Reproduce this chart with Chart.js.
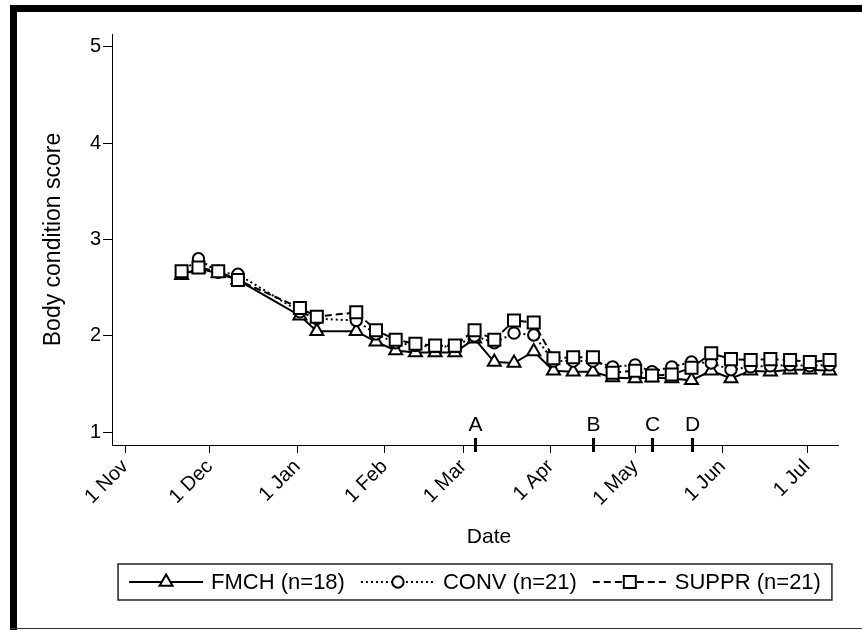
<!DOCTYPE html>
<html><head><meta charset="utf-8">
<style>html,body{margin:0;padding:0;background:#fff;}canvas{display:block;}</style>
<script src="https://cdn.jsdelivr.net/npm/chart.js@4.4.0/dist/chart.umd.min.js"></script>
</head><body>
<canvas id="c" width="862" height="630"></canvas>
<script>
// ---- data (days counted from 1 Nov) ----
const sampleDays = [20,26,33,40,62,68,82,89,96,103,110,117,124,131,138,145,152,159,166,173,181,187,194,201,208,215,222,229,236,243,250];
const fmch  = [2.63,2.70,2.65,2.58,2.21,2.05,2.05,1.94,1.85,1.83,1.83,1.83,1.97,1.73,1.72,1.84,1.64,1.63,1.63,1.57,1.56,1.57,1.56,1.54,1.64,1.56,1.64,1.63,1.65,1.65,1.64];
const conv  = [2.66,2.80,2.66,2.64,2.25,2.18,2.16,2.02,1.93,1.90,1.89,1.89,2.00,1.93,2.03,2.01,1.74,1.74,1.74,1.68,1.70,1.63,1.68,1.73,1.72,1.65,1.68,1.69,1.70,1.69,1.70];
const suppr = [2.67,2.71,2.67,2.58,2.29,2.20,2.245,2.06,1.96,1.92,1.90,1.90,2.06,1.96,2.16,2.14,1.77,1.78,1.78,1.62,1.64,1.59,1.60,1.67,1.82,1.76,1.75,1.76,1.75,1.73,1.75];
const seriesLabels = ['FMCH (n=18)','CONV (n=21)','SUPPR (n=21)'];
const monthTickDays = [0,30,61,92,120,151,181,212,242];
const monthTickLabels = ['1 Nov','1 Dec','1 Jan','1 Feb','1 Mar','1 Apr','1 May','1 Jun','1 Jul'];
const yTicks = [1,2,3,4,5];
const eventDays = [124,166,187,201];
const eventLabels = ['A','B','C','D'];
const xTitle = 'Date';
const yTitle = 'Body condition score';

const FONT = "'Liberation Sans', Arial, Helvetica, sans-serif";

function pts(arr){ return sampleDays.map((d,i)=>({x:d,y:arr[i]})); }

function drawMarker(ctx, style, r, x, y){
  ctx.beginPath();
  if(style==='circle'){ ctx.arc(x,y,r,0,Math.PI*2); }
  else if(style==='rect'){ const s=Math.SQRT1_2*r; ctx.rect(x-s,y-s,2*s,2*s); }
  else if(style==='triangle'){
    let a=0; ctx.moveTo(x+Math.sin(a)*r,y-Math.cos(a)*r);
    a+=2*Math.PI/3; ctx.lineTo(x+Math.sin(a)*r,y-Math.cos(a)*r);
    a+=2*Math.PI/3; ctx.lineTo(x+Math.sin(a)*r,y-Math.cos(a)*r);
    ctx.closePath();
  }
  ctx.fill(); ctx.stroke();
}

const framePlugin = {
  id:'frame',
  afterDraw(chart){
    const ctx=chart.ctx; ctx.save();
    ctx.fillStyle='#000';
    ctx.fillRect(10,5,852,7);
    ctx.fillRect(10,5,7,625);
    ctx.fillStyle='#333';
    ctx.fillRect(10,628,852,1);
    ctx.restore();
  }
};

const xTitlePlugin = {
  id:'xTitle',
  afterDraw(chart){
    const ctx=chart.ctx, ca=chart.chartArea;
    ctx.save();
    ctx.fillStyle='#000'; ctx.font='21px '+FONT; ctx.textAlign='center'; ctx.textBaseline='middle';
    ctx.fillText(xTitle,(ca.left+ca.right)/2+14,ca.bottom+92);
    ctx.restore();
  }
};

const eventPlugin = {
  id:'events',
  afterDraw(chart){
    const ctx=chart.ctx, xs=chart.scales.x, yb=chart.chartArea.bottom;
    ctx.save();
    ctx.strokeStyle='#000'; ctx.lineWidth=3; ctx.fillStyle='#000';
    ctx.font='21px '+FONT; ctx.textAlign='center'; ctx.textBaseline='alphabetic';
    eventDays.forEach((d,i)=>{
      const px=Math.round(xs.getPixelForValue(d))+0.5;
      ctx.beginPath(); ctx.moveTo(px,yb-7); ctx.lineTo(px,yb+7); ctx.stroke();
      ctx.fillText(eventLabels[i],px,yb-14);
    });
    ctx.restore();
  }
};

const legendPlugin = {
  id:'boxLegend',
  afterDraw(chart){
    const ctx=chart.ctx, ca=chart.chartArea;
    ctx.save();
    ctx.font='22px '+FONT;
    const sampleW=74, gapT=8, gapI=16, padX=11;
    const ds=chart.data.datasets;
    const widths=ds.map(d=>ctx.measureText(d.label).width);
    let total=0; ds.forEach((d,i)=>{ total+=sampleW+gapT+widths[i]; if(i<ds.length-1) total+=gapI; });
    const cx=(ca.left+ca.right)/2;
    const boxW=total+2*padX, boxL=cx-boxW/2, boxT=ca.bottom+119, boxH=36;
    ctx.strokeStyle='#222'; ctx.lineWidth=1.5;
    ctx.strokeRect(boxL,boxT,boxW,boxH);
    const yc=boxT+boxH/2;
    let x=boxL+padX;
    ds.forEach((d,i)=>{
      ctx.strokeStyle='#000'; ctx.lineWidth=d.borderWidth; ctx.lineCap='butt';
      ctx.setLineDash(d.borderDash||[]);
      ctx.beginPath(); ctx.moveTo(x,yc); ctx.lineTo(x+sampleW,yc); ctx.stroke();
      ctx.setLineDash([]);
      ctx.fillStyle='#fff'; ctx.lineWidth=d.pointBorderWidth;
      drawMarker(ctx,d.pointStyle,d.pointRadius,x+sampleW/2,yc);
      ctx.fillStyle='#000'; ctx.textAlign='left'; ctx.textBaseline='middle';
      ctx.fillText(d.label,x+sampleW+gapT,yc+1);
      x+=sampleW+gapT+widths[i]+gapI;
    });
    ctx.restore();
  }
};

const common = {borderColor:'#000',borderWidth:2,borderCapStyle:'butt',pointBackgroundColor:'#fff',pointBorderColor:'#000',pointBorderWidth:2,tension:0,fill:false,showLine:true};

new Chart(document.getElementById('c'),{
  type:'line',
  data:{datasets:[
    Object.assign({},common,{label:seriesLabels[0],data:pts(fmch),borderDash:[],pointStyle:'triangle',pointRadius:7.5,order:3}),
    Object.assign({},common,{label:seriesLabels[1],data:pts(conv),borderDash:[2,3],pointStyle:'circle',pointRadius:5.7,order:2}),
    Object.assign({},common,{label:seriesLabels[2],data:pts(suppr),borderDash:[7,4],pointStyle:'rect',pointRadius:8.5,order:1})
  ]},
  options:{
    responsive:false, animation:false, devicePixelRatio:1, events:[],
    layout:{padding:{left:0,top:34,right:24,bottom:75}},
    plugins:{legend:{display:false},tooltip:{enabled:false}},
    scales:{
      x:{type:'linear',min:-4.7,max:253,
        afterBuildTicks:s=>{ s.ticks=monthTickDays.map(v=>({value:v})); },
        afterFit:s=>{ s.height=110; s.paddingLeft=0; s.paddingRight=0; },
        ticks:{autoSkip:false,minRotation:45,maxRotation:45,color:'#000',padding:2,font:{family:FONT,size:20},
          callback:(v)=>{ const i=monthTickDays.indexOf(v); return i>=0?monthTickLabels[i]:''; }},
        grid:{display:true,drawOnChartArea:false,drawTicks:true,tickLength:8,color:'#000',lineWidth:1},
        border:{display:true,color:'#000',width:1},
        title:{display:false,text:xTitle}
      },
      y:{type:'linear',min:0.87,max:5.13,
        afterBuildTicks:s=>{ s.ticks=yTicks.map(v=>({value:v})); },
        afterFit:s=>{ s.width=112; s.paddingTop=0; s.paddingBottom=0; },
        ticks:{color:'#000',padding:2,font:{family:FONT,size:20},callback:(v)=>String(v)},
        grid:{display:true,drawOnChartArea:false,drawTicks:true,tickLength:9,color:'#000',lineWidth:1},
        border:{display:true,color:'#000',width:1},
        title:{display:true,text:yTitle,color:'#000',font:{family:FONT,size:23},padding:{top:40,bottom:0}}
      }
    }
  },
  plugins:[framePlugin,xTitlePlugin,eventPlugin,legendPlugin]
});
</script>
</body></html>
